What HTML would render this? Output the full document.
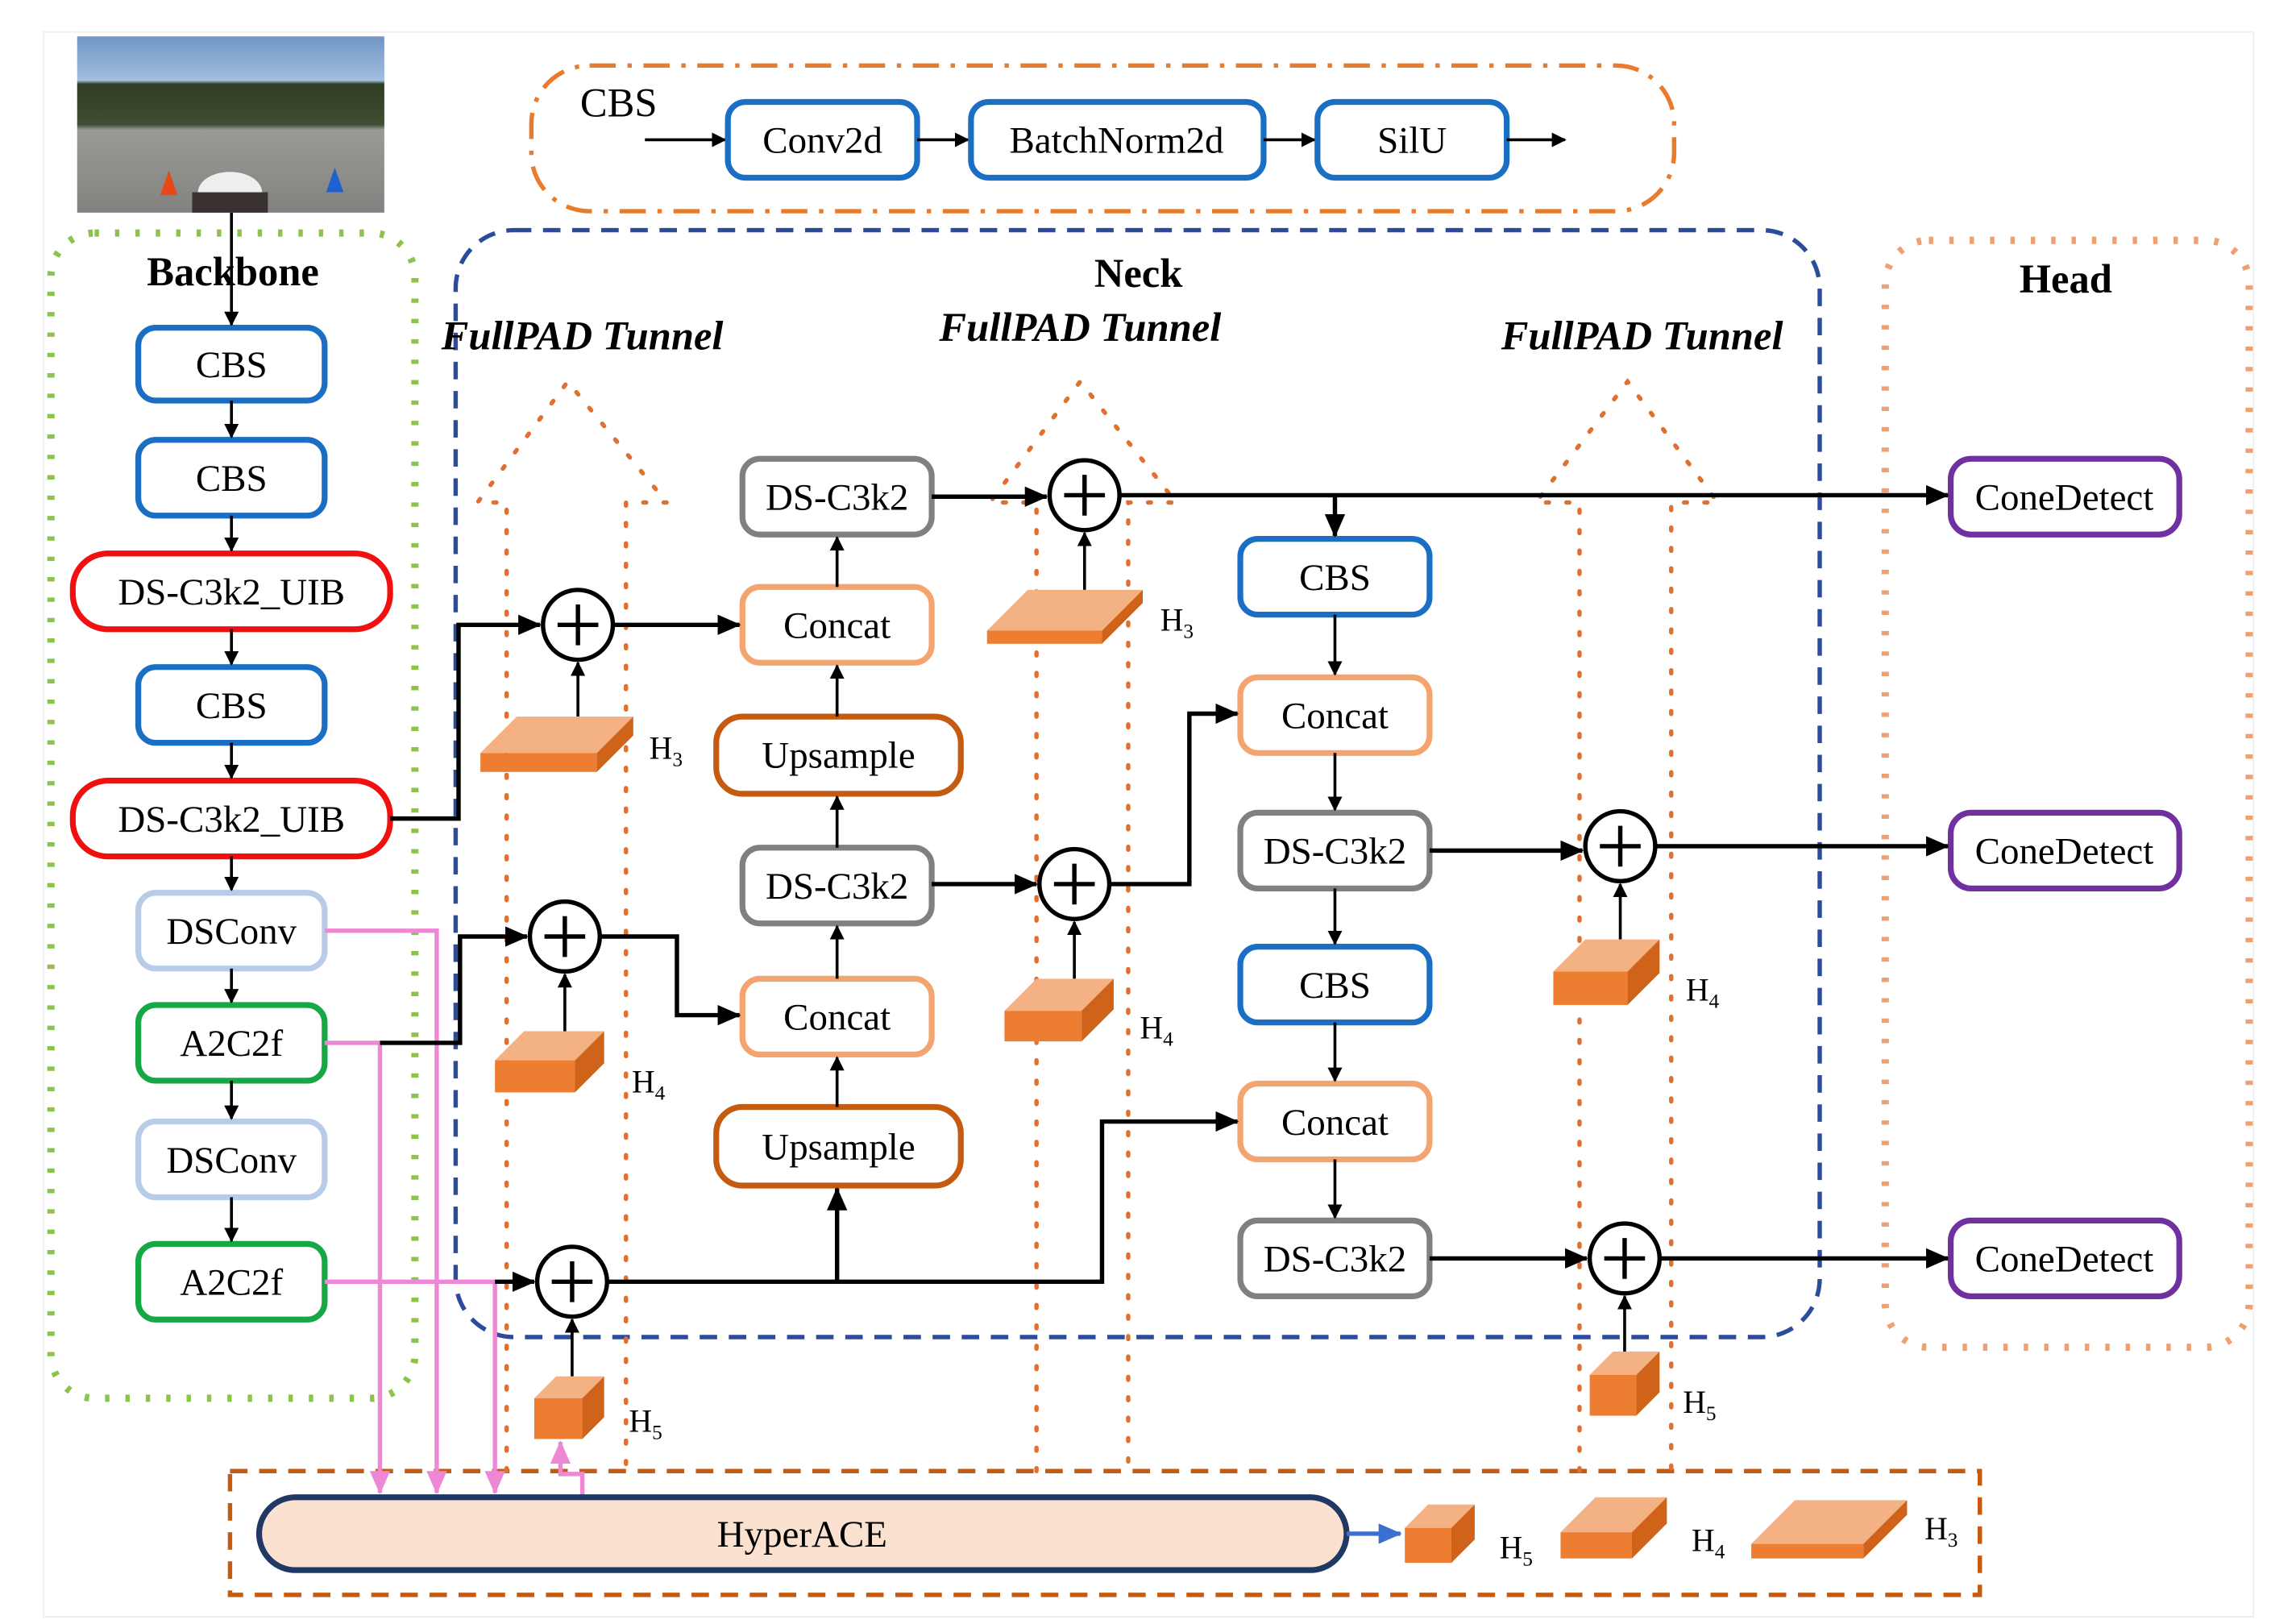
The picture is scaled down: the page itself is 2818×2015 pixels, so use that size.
<!DOCTYPE html>
<html><head><meta charset="utf-8"><style>
html,body{margin:0;padding:0;background:#fff;}
svg{display:block;}
</style></head><body>
<svg width="2818" height="2015" viewBox="0 0 1560 1115" preserveAspectRatio="none" xmlns="http://www.w3.org/2000/svg" font-family="Liberation Serif, serif">
<defs>
<marker id="a" markerWidth="10" markerHeight="10" refX="9" refY="5" orient="auto" markerUnits="userSpaceOnUse"><path d="M0,0 L10,5 L0,10 z" fill="#000"/></marker>
<marker id="ab" markerWidth="16" markerHeight="14" refX="15" refY="7" orient="auto" markerUnits="userSpaceOnUse"><path d="M0,0 L16,7 L0,14 z" fill="#000"/></marker>
<marker id="ap" markerWidth="16" markerHeight="14" refX="15" refY="7" orient="auto" markerUnits="userSpaceOnUse"><path d="M0,0 L16,7 L0,14 z" fill="#EE88D4"/></marker>
<marker id="abl" markerWidth="16" markerHeight="14" refX="15" refY="7" orient="auto" markerUnits="userSpaceOnUse"><path d="M0,0 L16,7 L0,14 z" fill="#3C6FD0"/></marker>
<linearGradient id="sky" x1="0" y1="0" x2="0" y2="1">
<stop offset="0" stop-color="#6f95c8"/><stop offset="0.25" stop-color="#a4bedc"/><stop offset="0.27" stop-color="#2f3d22"/><stop offset="0.5" stop-color="#3f4e33"/><stop offset="0.53" stop-color="#9a9a96"/><stop offset="1" stop-color="#828280"/></linearGradient>
</defs>
<rect x="30" y="22" width="1518" height="1088" fill="none" stroke="#eee" stroke-width="1"/>

<!-- photo -->
<rect x="53" y="25" width="211" height="121" fill="url(#sky)"/>
<ellipse cx="158" cy="132" rx="22" ry="14" fill="#eee"/>
<rect x="132" y="132" width="52" height="14" fill="#3a3230"/>
<polygon points="110,134 116,117 122,134" fill="#e84818"/>
<polygon points="224,132 230,115 236,132" fill="#2060d0"/>

<!-- CBS legend -->
<rect x="365" y="45" width="785" height="100" rx="40" fill="none" stroke="#E87B2C" stroke-width="3" stroke-dasharray="18,8,3,8"/>
<text x="425" y="80" font-size="28" text-anchor="middle">CBS</text>
<line x1="443" y1="96" x2="498" y2="96" stroke="#000" stroke-width="2" marker-end="url(#a)"/>
<rect x="500" y="70" width="130" height="52" rx="12" fill="#fff" stroke="#1A6FC4" stroke-width="4"/>
<text x="565" y="105" font-size="26" text-anchor="middle">Conv2d</text>
<line x1="630" y1="96" x2="665" y2="96" stroke="#000" stroke-width="2" marker-end="url(#a)"/>
<rect x="667" y="70" width="201" height="52" rx="12" fill="#fff" stroke="#1A6FC4" stroke-width="4"/>
<text x="767" y="105" font-size="26" text-anchor="middle">BatchNorm2d</text>
<line x1="868" y1="96" x2="903" y2="96" stroke="#000" stroke-width="2" marker-end="url(#a)"/>
<rect x="905" y="70" width="130" height="52" rx="12" fill="#fff" stroke="#1A6FC4" stroke-width="4"/>
<text x="970" y="105" font-size="26" text-anchor="middle">SilU</text>
<line x1="1035" y1="96" x2="1075" y2="96" stroke="#000" stroke-width="2" marker-end="url(#a)"/>

<!-- containers -->
<rect x="35" y="160" width="250" height="800" rx="30" fill="none" stroke="#8CC34B" stroke-width="5" stroke-dasharray="3,11"/>
<rect x="313" y="158" width="937" height="760" rx="40" fill="none" stroke="#2B4C9B" stroke-width="3" stroke-dasharray="12,8"/>
<rect x="1295" y="165" width="250" height="760" rx="30" fill="none" stroke="#F0A070" stroke-width="5" stroke-dasharray="3,11"/>
<rect x="158" y="1010" width="1202" height="85" fill="none" stroke="#C55A11" stroke-width="3" stroke-dasharray="12,8"/>

<text x="160" y="196" font-size="28" font-weight="bold" text-anchor="middle">Backbone</text>
<text x="782" y="197" font-size="28" font-weight="bold" text-anchor="middle">Neck</text>
<text x="1419" y="201" font-size="28" font-weight="bold" text-anchor="middle">Head</text>
<text x="400" y="240" font-size="28" font-weight="bold" font-style="italic" text-anchor="middle">FullPAD Tunnel</text>
<text x="742" y="234" font-size="28" font-weight="bold" font-style="italic" text-anchor="middle">FullPAD Tunnel</text>
<text x="1128" y="240" font-size="28" font-weight="bold" font-style="italic" text-anchor="middle">FullPAD Tunnel</text>

<!-- tunnels -->
<g fill="none" stroke="#E07030" stroke-width="3" stroke-dasharray="2,12" stroke-linecap="round">
<path d="M348,1010 V345 H328 L390,262 L458,345 H430 V1010"/>
<path d="M712,1010 V345 H680 L742,262 L808,345 H775 V1010"/>
<path d="M1085,1010 V345 H1055 L1118,262 L1180,345 H1148 V1010"/>
</g>

<!-- backbone boxes -->
<g font-size="26" text-anchor="middle">
<rect x="95" y="225" width="128" height="50" rx="12" fill="#fff" stroke="#1A6FC4" stroke-width="4"/><text x="159" y="259">CBS</text>
<rect x="95" y="302" width="128" height="52" rx="12" fill="#fff" stroke="#1A6FC4" stroke-width="4"/><text x="159" y="337">CBS</text>
<rect x="50" y="380" width="218" height="52" rx="24" fill="#fff" stroke="#F01010" stroke-width="4"/><text x="159" y="415">DS-C3k2_UIB</text>
<rect x="95" y="458" width="128" height="52" rx="12" fill="#fff" stroke="#1A6FC4" stroke-width="4"/><text x="159" y="493">CBS</text>
<rect x="50" y="536" width="218" height="52" rx="24" fill="#fff" stroke="#F01010" stroke-width="4"/><text x="159" y="571">DS-C3k2_UIB</text>
<rect x="95" y="613" width="128" height="52" rx="12" fill="#fff" stroke="#B8CCE8" stroke-width="4"/><text x="159" y="648">DSConv</text>
<rect x="95" y="690" width="128" height="52" rx="12" fill="#fff" stroke="#16A844" stroke-width="4"/><text x="159" y="725">A2C2f</text>
<rect x="95" y="770" width="128" height="52" rx="12" fill="#fff" stroke="#B8CCE8" stroke-width="4"/><text x="159" y="805">DSConv</text>
<rect x="95" y="854" width="128" height="52" rx="12" fill="#fff" stroke="#16A844" stroke-width="4"/><text x="159" y="889">A2C2f</text>
</g>
<g stroke="#000" stroke-width="2" marker-end="url(#a)">
<line x1="159" y1="146" x2="159" y2="223"/>
<line x1="159" y1="275" x2="159" y2="300"/>
<line x1="159" y1="354" x2="159" y2="378"/>
<line x1="159" y1="432" x2="159" y2="456"/>
<line x1="159" y1="510" x2="159" y2="534"/>
<line x1="159" y1="588" x2="159" y2="611"/>
<line x1="159" y1="665" x2="159" y2="688"/>
<line x1="159" y1="742" x2="159" y2="768"/>
<line x1="159" y1="822" x2="159" y2="852"/>
</g>

<!-- neck middle column -->
<g font-size="26" text-anchor="middle">
<rect x="510" y="315" width="130" height="52" rx="12" fill="#fff" stroke="#808080" stroke-width="4"/><text x="575" y="350">DS-C3k2</text>
<rect x="510" y="403" width="130" height="52" rx="12" fill="#fff" stroke="#F4A46E" stroke-width="4"/><text x="575" y="438">Concat</text>
<rect x="492" y="492" width="168" height="53" rx="18" fill="#fff" stroke="#C55A11" stroke-width="4"/><text x="576" y="527">Upsample</text>
<rect x="510" y="582" width="130" height="52" rx="12" fill="#fff" stroke="#808080" stroke-width="4"/><text x="575" y="617">DS-C3k2</text>
<rect x="510" y="672" width="130" height="52" rx="12" fill="#fff" stroke="#F4A46E" stroke-width="4"/><text x="575" y="707">Concat</text>
<rect x="492" y="760" width="168" height="54" rx="18" fill="#fff" stroke="#C55A11" stroke-width="4"/><text x="576" y="796">Upsample</text>
<rect x="852" y="370" width="130" height="52" rx="12" fill="#fff" stroke="#1A6FC4" stroke-width="4"/><text x="917" y="405">CBS</text>
<rect x="852" y="465" width="130" height="52" rx="12" fill="#fff" stroke="#F4A46E" stroke-width="4"/><text x="917" y="500">Concat</text>
<rect x="852" y="558" width="130" height="52" rx="12" fill="#fff" stroke="#808080" stroke-width="4"/><text x="917" y="593">DS-C3k2</text>
<rect x="852" y="650" width="130" height="52" rx="12" fill="#fff" stroke="#1A6FC4" stroke-width="4"/><text x="917" y="685">CBS</text>
<rect x="852" y="744" width="130" height="52" rx="12" fill="#fff" stroke="#F4A46E" stroke-width="4"/><text x="917" y="779">Concat</text>
<rect x="852" y="838" width="130" height="52" rx="12" fill="#fff" stroke="#808080" stroke-width="4"/><text x="917" y="873">DS-C3k2</text>
<rect x="1340" y="315" width="157" height="52" rx="14" fill="#fff" stroke="#7030A0" stroke-width="4"/><text x="1418" y="350">ConeDetect</text>
<rect x="1340" y="558" width="157" height="52" rx="14" fill="#fff" stroke="#7030A0" stroke-width="4"/><text x="1418" y="593">ConeDetect</text>
<rect x="1340" y="838" width="157" height="52" rx="14" fill="#fff" stroke="#7030A0" stroke-width="4"/><text x="1418" y="873">ConeDetect</text>
</g>

<!-- thin arrows -->
<g stroke="#000" stroke-width="2" marker-end="url(#a)">
<line x1="575" y1="403" x2="575" y2="369"/>
<line x1="575" y1="492" x2="575" y2="457"/>
<line x1="575" y1="582" x2="575" y2="547"/>
<line x1="575" y1="672" x2="575" y2="636"/>
<line x1="575" y1="760" x2="575" y2="726"/>
<line x1="917" y1="422" x2="917" y2="463"/>
<line x1="917" y1="517" x2="917" y2="556"/>
<line x1="917" y1="610" x2="917" y2="648"/>
<line x1="917" y1="702" x2="917" y2="742"/>
<line x1="917" y1="796" x2="917" y2="836"/>
<line x1="397" y1="492" x2="397" y2="455"/>
<line x1="745" y1="405" x2="745" y2="366"/>
<line x1="738" y1="672" x2="738" y2="633"/>
<line x1="388" y1="708" x2="388" y2="669"/>
<line x1="393" y1="945" x2="393" y2="906"/>
<line x1="1113" y1="645" x2="1113" y2="607"/>
<line x1="1116" y1="928" x2="1116" y2="890"/>
</g>

<!-- pink lines -->
<g fill="none" stroke="#EE88D4" stroke-width="3">
<path d="M223,639 H300 V1025" marker-end="url(#ap)"/>
<path d="M223,716 H261 V1025" marker-end="url(#ap)"/>
<path d="M223,880 H340 V1025" marker-end="url(#ap)"/>
<path d="M400,1028 V1012 H385 V990" marker-end="url(#ap)"/>
</g>

<!-- thick connectors -->
<g fill="none" stroke="#000" stroke-width="3">
<path d="M268,562 H315 V429 H371" marker-end="url(#ab)"/>
<path d="M421,429 H508" marker-end="url(#ab)"/>
<path d="M640,341 H719" marker-end="url(#ab)"/>
<path d="M769,340 H1338" marker-end="url(#ab)"/>
<path d="M917,340 V368" marker-end="url(#ab)"/>
<path d="M640,607 H712" marker-end="url(#ab)"/>
<path d="M762,607 H817 V490 H850" marker-end="url(#ab)"/>
<path d="M261,716 H316 V643 H362" marker-end="url(#ab)"/>
<path d="M412,643 H465 V697 H508" marker-end="url(#ab)"/>
<path d="M340,880 H367" marker-end="url(#ab)"/>
<path d="M417,880 H757 V770 H850" marker-end="url(#ab)"/>
<path d="M575,880 V816" marker-end="url(#ab)"/>
<path d="M982,584 H1087" marker-end="url(#ab)"/>
<path d="M1137,581 H1338" marker-end="url(#ab)"/>
<path d="M982,864 H1090" marker-end="url(#ab)"/>
<path d="M1140,864 H1338" marker-end="url(#ab)"/>
</g>

<!-- plus circles -->
<g fill="#fff" stroke="#000" stroke-width="3">
<circle cx="397" cy="429" r="24"/><circle cx="745" cy="340" r="24"/><circle cx="738" cy="607" r="24"/>
<circle cx="388" cy="643" r="24"/><circle cx="393" cy="880" r="24"/><circle cx="1113" cy="581" r="24"/><circle cx="1116" cy="864" r="24"/>
</g>
<g stroke="#000" stroke-width="3">
<path d="M383,429 H411 M397,415 V443"/><path d="M731,340 H759 M745,326 V354"/><path d="M724,607 H752 M738,593 V621"/>
<path d="M374,643 H402 M388,629 V657"/><path d="M379,880 H407 M393,866 V894"/><path d="M1099,581 H1127 M1113,567 V595"/><path d="M1102,864 H1130 M1116,850 V878"/>
</g>

<!-- cubes -->
<g stroke="none">
<polygon points="330,517 355,492 435,492 410,517" fill="#F4B183"/><rect x="330" y="517" width="80" height="13" fill="#ED7D31"/><polygon points="410,517 435,492 435,505 410,530" fill="#D0631A"/>
<polygon points="340,728 360,708 415,708 395,728" fill="#F4B183"/><rect x="340" y="728" width="55" height="22" fill="#ED7D31"/><polygon points="395,728 415,708 415,730 395,750" fill="#D0631A"/>
<polygon points="367,960 382,945 415,945 400,960" fill="#F4B183"/><rect x="367" y="960" width="33" height="28" fill="#ED7D31"/><polygon points="400,960 415,945 415,973 400,988" fill="#D0631A"/>
<polygon points="678,433 706,405 785,405 757,433" fill="#F4B183"/><rect x="678" y="433" width="79" height="9" fill="#ED7D31"/><polygon points="757,433 785,405 785,414 757,442" fill="#D0631A"/>
<polygon points="690,694 712,672 765,672 743,694" fill="#F4B183"/><rect x="690" y="694" width="53" height="21" fill="#ED7D31"/><polygon points="743,694 765,672 765,693 743,715" fill="#D0631A"/>
<polygon points="1067,667 1089,645 1140,645 1118,667" fill="#F4B183"/><rect x="1067" y="667" width="51" height="23" fill="#ED7D31"/><polygon points="1118,667 1140,645 1140,668 1118,690" fill="#D0631A"/>
<polygon points="1092,944 1108,928 1140,928 1124,944" fill="#F4B183"/><rect x="1092" y="944" width="32" height="28" fill="#ED7D31"/><polygon points="1124,944 1140,928 1140,956 1124,972" fill="#D0631A"/>
<polygon points="965,1049 981,1033 1013,1033 997,1049" fill="#F4B183"/><rect x="965" y="1049" width="32" height="24" fill="#ED7D31"/><polygon points="997,1049 1013,1033 1013,1057 997,1073" fill="#D0631A"/>
<polygon points="1072,1052 1096,1028 1145,1028 1121,1052" fill="#F4B183"/><rect x="1072" y="1052" width="49" height="18" fill="#ED7D31"/><polygon points="1121,1052 1145,1028 1145,1046 1121,1070" fill="#D0631A"/>
<polygon points="1203,1060 1233,1030 1310,1030 1280,1060" fill="#F4B183"/><rect x="1203" y="1060" width="77" height="10" fill="#ED7D31"/><polygon points="1280,1060 1310,1030 1310,1040 1280,1070" fill="#D0631A"/>
</g>

<!-- H labels -->
<g font-size="22">
<text x="446" y="521">H<tspan font-size="14" dy="5">3</tspan></text>
<text x="434" y="750">H<tspan font-size="14" dy="5">4</tspan></text>
<text x="432" y="983">H<tspan font-size="14" dy="5">5</tspan></text>
<text x="797" y="433">H<tspan font-size="14" dy="5">3</tspan></text>
<text x="783" y="713">H<tspan font-size="14" dy="5">4</tspan></text>
<text x="1158" y="687">H<tspan font-size="14" dy="5">4</tspan></text>
<text x="1156" y="970">H<tspan font-size="14" dy="5">5</tspan></text>
<text x="1030" y="1070">H<tspan font-size="14" dy="5">5</tspan></text>
<text x="1162" y="1065">H<tspan font-size="14" dy="5">4</tspan></text>
<text x="1322" y="1057">H<tspan font-size="14" dy="5">3</tspan></text>
</g>

<!-- HyperACE -->
<rect x="178" y="1028" width="747" height="50" rx="25" fill="#FBE2D0" stroke="#1F3864" stroke-width="4"/>
<text x="551" y="1062" font-size="26" text-anchor="middle">HyperACE</text>
<line x1="925" y1="1053" x2="962" y2="1053" stroke="#3C6FD0" stroke-width="3" marker-end="url(#abl)"/>
</svg>
</body></html>
